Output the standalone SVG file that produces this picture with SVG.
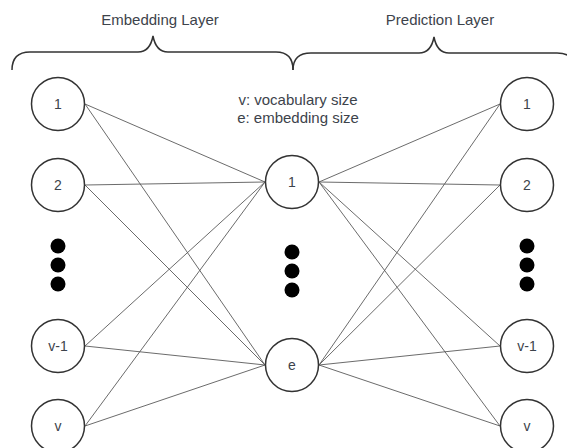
<svg xmlns="http://www.w3.org/2000/svg" width="567" height="448" viewBox="0 0 567 448">
<style>
.n{fill:#fff;stroke:#333;stroke-width:1.5}
.t{font-family:"Liberation Sans",Arial,sans-serif;font-size:14px;fill:#3d434b;text-anchor:middle}
.h{font-size:15px}
.d{fill:#000}
.c line{stroke:#5a5a5a;stroke-width:0.9}
.b{fill:none;stroke:#333;stroke-width:1.5}
</style>
<rect width="567" height="448" fill="#fff"/>
<g id="connectors" class="c">
<line x1="85" y1="104" x2="265" y2="182"/>
<line x1="85" y1="104" x2="265" y2="365"/>
<line x1="85" y1="185" x2="265" y2="182"/>
<line x1="85" y1="185" x2="265" y2="365"/>
<line x1="85" y1="346" x2="265" y2="182"/>
<line x1="85" y1="346" x2="265" y2="365"/>
<line x1="85" y1="426" x2="265" y2="182"/>
<line x1="85" y1="426" x2="265" y2="365"/>
<line x1="319" y1="182" x2="500" y2="104"/>
<line x1="319" y1="182" x2="500" y2="185"/>
<line x1="319" y1="182" x2="500" y2="346"/>
<line x1="319" y1="182" x2="500" y2="426"/>
<line x1="319" y1="365" x2="500" y2="104"/>
<line x1="319" y1="365" x2="500" y2="185"/>
<line x1="319" y1="365" x2="500" y2="346"/>
<line x1="319" y1="365" x2="500" y2="426"/>
</g>
<g id="brace-embedding">
<path class="b" d="M12,70 Q12,52 30,52 L138,52 Q150,52 153,36 Q156,52 168,52 L276,52 Q293,52 293,70"/>
<text class="t h" x="160" y="25">Embedding Layer</text>
</g>
<g id="brace-prediction">
<path class="b" d="M293,70 Q293,53 311,53 L419,53 Q431,53 434,37 Q437,53 449,53 L557,53 Q575,53 575,70"/>
<text class="t h" x="440" y="25">Prediction Layer</text>
</g>
<g id="legend">
<text class="t h" x="298" y="105">v: vocabulary size</text>
<text class="t h" x="298" y="123">e: embedding size</text>
</g>
<g id="in-1"><circle class="n" cx="58" cy="104" r="26.5"/><text class="t" x="58" y="109">1</text></g>
<g id="in-2"><circle class="n" cx="58" cy="185" r="26.5"/><text class="t" x="58" y="190">2</text></g>
<g id="in-dots"><circle class="d" cx="58" cy="246" r="7.5"/><circle class="d" cx="58" cy="265" r="7.5"/><circle class="d" cx="58" cy="284" r="7.5"/></g>
<g id="in-v-1"><circle class="n" cx="58" cy="346" r="26.5"/><text class="t" x="58" y="351">v-1</text></g>
<g id="in-v"><circle class="n" cx="58" cy="426" r="26.5"/><text class="t" x="58" y="431">v</text></g>
<g id="hid-1"><circle class="n" cx="292" cy="182" r="26.5"/><text class="t" x="292" y="187">1</text></g>
<g id="hid-dots"><circle class="d" cx="292" cy="252" r="7.5"/><circle class="d" cx="292" cy="271" r="7.5"/><circle class="d" cx="292" cy="290" r="7.5"/></g>
<g id="hid-e"><circle class="n" cx="292" cy="365" r="26.5"/><text class="t" x="292" y="370">e</text></g>
<g id="out-1"><circle class="n" cx="527" cy="104" r="26.5"/><text class="t" x="527" y="109">1</text></g>
<g id="out-2"><circle class="n" cx="527" cy="185" r="26.5"/><text class="t" x="527" y="190">2</text></g>
<g id="out-dots"><circle class="d" cx="527" cy="246" r="7.5"/><circle class="d" cx="527" cy="265" r="7.5"/><circle class="d" cx="527" cy="284" r="7.5"/></g>
<g id="out-v-1"><circle class="n" cx="527" cy="346" r="26.5"/><text class="t" x="527" y="351">v-1</text></g>
<g id="out-v"><circle class="n" cx="527" cy="426" r="26.5"/><text class="t" x="527" y="431">v</text></g>
</svg>
